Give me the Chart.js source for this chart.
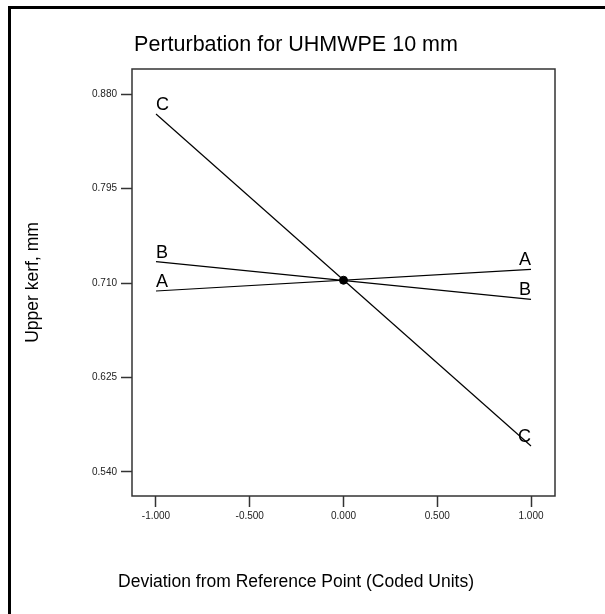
<!DOCTYPE html>
<html>
<head>
<meta charset="utf-8">
<script src="https://cdn.jsdelivr.net/npm/chart.js@4.4.1/dist/chart.umd.min.js"></script>
<style>
    body { margin: 0; background: #fff; overflow: hidden; }
    #frame { position: absolute; left: 8px; top: 6px; width: 700px; height: 700px; border-left: 3px solid #000; border-top: 3px solid #000; }
    #wrap { position: absolute; left: 0; top: 0; width: 605px; height: 614px; }
</style>
</head>
<body>
<div id="frame"></div>
<div id="wrap"><canvas id="perturbChart"></canvas></div>
<script>
// Deviation from reference point (coded units)
const deviation = [-1, 1];
// Upper kerf (mm) for each factor at the ends of the range
const factorA = [0.7028, 0.7223];
const factorB = [0.7292, 0.6953];
const factorC = [0.8620, 0.5634];
const refPoint = { x: 0, y: 0.7125 };

const xTicks = [-1, -0.5, 0, 0.5, 1];
const yTicks = [0.540, 0.625, 0.710, 0.795, 0.880];

const factors = [
    { name: 'A', data: factorA },
    { name: 'B', data: factorB },
    { name: 'C', data: factorC }
];

const toPoints = arr => deviation.map((x, i) => ({ x: x, y: arr[i] }));

// Frame, titles and factor letters
const annotate = {
    id: 'annotate',
    afterDraw(chart) {
        const ctx = chart.ctx;
        const area = chart.chartArea;
        const xs = chart.scales.x;
        const ys = chart.scales.y;
        ctx.save();

        ctx.strokeStyle = '#333';
        ctx.lineWidth = 1.5;
        ctx.strokeRect(area.left, area.top, area.right - area.left, area.bottom - area.top);

        ctx.fillStyle = '#000';
        ctx.textAlign = 'center';
        ctx.textBaseline = 'middle';
        ctx.font = '21.5px "Liberation Sans", Arial, sans-serif';
        ctx.fillText('Perturbation for UHMWPE 10 mm', 296, 45);

        ctx.font = '17.5px "Liberation Sans", Arial, sans-serif';
        ctx.fillText('Deviation from Reference Point (Coded Units)', 296, 582);

        ctx.save();
        ctx.translate(33, (area.top + area.bottom) / 2);
        ctx.rotate(-Math.PI / 2);
        ctx.fillText('Upper kerf, mm', 0, 0);
        ctx.restore();

        ctx.font = '18px "Liberation Sans", Arial, sans-serif';
        ctx.textBaseline = 'alphabetic';
        factors.forEach(f => {
            ctx.textAlign = 'left';
            ctx.fillText(f.name, xs.getPixelForValue(deviation[0]), ys.getPixelForValue(f.data[0]) - 4);
            ctx.textAlign = 'right';
            ctx.fillText(f.name, xs.getPixelForValue(deviation[1]), ys.getPixelForValue(f.data[1]) - 4);
        });
        ctx.restore();
    }
};

const lineSet = factors.map(f => ({
    label: f.name,
    data: toPoints(f.data),
    showLine: true,
    borderColor: '#000',
    borderWidth: 1.2,
    pointRadius: 0
}));

lineSet.push({
    label: 'ref',
    data: [refPoint],
    showLine: false,
    pointRadius: 4,
    pointBackgroundColor: '#000',
    pointBorderColor: '#000'
});

const tickFont = { family: '"Liberation Sans", Arial, sans-serif', size: 10 };

new Chart(document.getElementById('perturbChart'), {
    type: 'scatter',
    data: { datasets: lineSet },
    plugins: [annotate],
    options: {
        responsive: true,
        maintainAspectRatio: false,
        animation: false,
        layout: { padding: { left: 0, right: 50, top: 69, bottom: 88 } },
        plugins: {
            legend: { display: false },
            tooltip: { enabled: false }
        },
        scales: {
            x: {
                type: 'linear',
                min: -1.128,
                max: 1.128,
                afterBuildTicks: scale => { scale.ticks = xTicks.map(v => ({ value: v })); },
                afterFit: scale => { scale.height = 30; },
                grid: { drawOnChartArea: false, tickLength: 11, tickColor: '#333', tickWidth: 1.5 },
                border: { display: false },
                ticks: {
                    color: '#222',
                    font: tickFont,
                    padding: 3,
                    maxRotation: 0,
                    callback: v => v.toFixed(3)
                }
            },
            y: {
                type: 'linear',
                min: 0.5184,
                max: 0.9025,
                afterBuildTicks: scale => { scale.ticks = yTicks.map(v => ({ value: v })); },
                afterFit: scale => { scale.width = 132; },
                grid: { drawOnChartArea: false, tickLength: 11, tickColor: '#333', tickWidth: 1.5 },
                border: { display: false },
                ticks: {
                    color: '#222',
                    font: tickFont,
                    padding: 4,
                    callback: v => v.toFixed(3)
                }
            }
        }
    }
});
</script>
</body>
</html>
